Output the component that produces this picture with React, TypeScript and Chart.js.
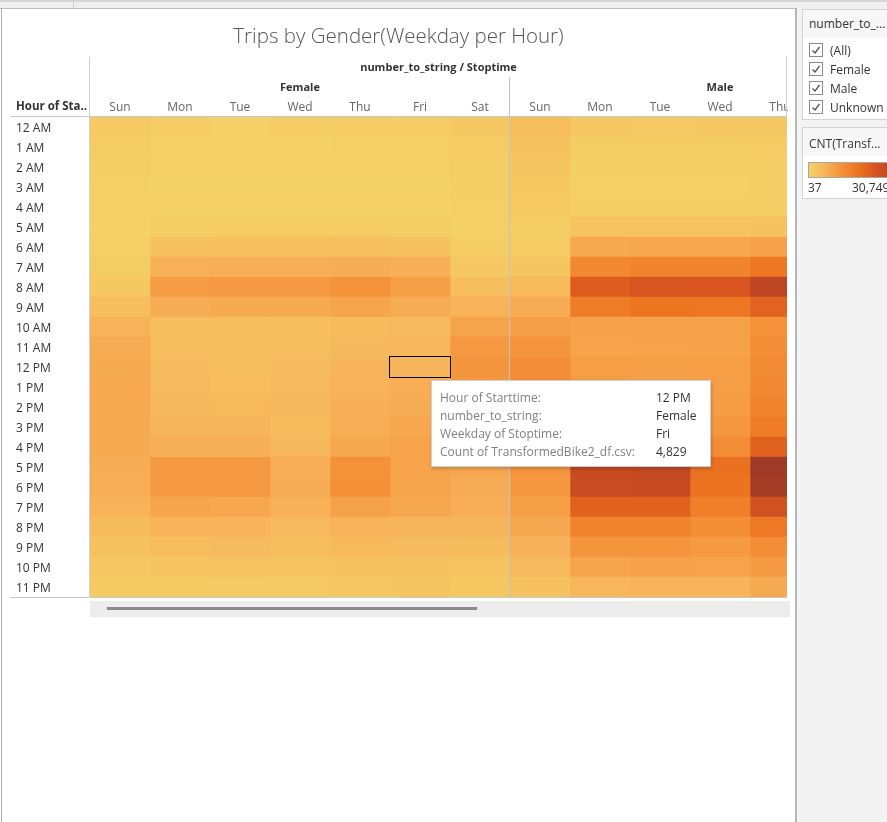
import React, { useEffect, useRef } from "react";
import { Chart, registerables } from "chart.js";

Chart.register(...registerables);

// ---------- data ----------
const hours = [
  "12 AM", "1 AM", "2 AM", "3 AM", "4 AM", "5 AM", "6 AM", "7 AM", "8 AM", "9 AM", "10 AM", "11 AM",
  "12 PM", "1 PM", "2 PM", "3 PM", "4 PM", "5 PM", "6 PM", "7 PM", "8 PM", "9 PM", "10 PM", "11 PM",
];
const weekdays = ["Sun", "Mon", "Tue", "Wed", "Thu", "Fri", "Sat"];
const genders = ["Female", "Male"];

const femaleSun = [1300, 900, 600, 400, 300, 250, 400, 800, 1500, 3200, 5100, 6200, 6400, 6600, 6500, 6400, 6300, 6000, 5900, 5300, 3800, 2700, 1800, 1200];
const femaleMon = [500, 250, 150, 100, 150, 600, 2700, 5400, 8600, 6000, 3300, 3400, 3700, 4000, 4200, 4800, 5600, 8900, 9000, 7200, 5000, 3600, 2300, 1300];
const femaleTue = [450, 250, 150, 100, 150, 600, 2900, 5700, 9000, 6400, 3200, 3300, 3400, 3500, 3900, 4800, 5600, 8900, 9000, 7000, 5000, 3700, 2400, 1400];
const femaleWed = [500, 250, 150, 100, 150, 600, 2900, 5700, 9000, 6400, 3300, 3400, 3700, 4000, 4200, 3800, 4300, 5900, 6000, 5400, 4100, 3300, 2300, 1400];
const femaleThu = [550, 300, 150, 100, 150, 650, 3100, 6100, 10000, 7300, 3800, 4200, 4800, 5300, 5500, 5800, 6800, 10200, 10500, 7800, 5300, 3900, 2800, 1800];
const femaleFri = [650, 300, 200, 100, 150, 600, 2800, 5500, 8200, 6200, 4100, 4500, 4829, 5800, 6200, 6900, 7600, 7600, 7300, 6800, 4800, 3700, 2800, 2100];
const femaleSat = [1500, 1000, 700, 500, 350, 350, 600, 1500, 3200, 5200, 7400, 9000, 9600, 9300, 8900, 8500, 7900, 7000, 6200, 5900, 4800, 3800, 2300, 1600];
const maleSun = [3400, 2600, 2100, 1600, 1200, 800, 1000, 2000, 3900, 6200, 8000, 9800, 10800, 11200, 11000, 10600, 10300, 9800, 9300, 8200, 6800, 5400, 4100, 2700];
const maleMon = [1500, 900, 550, 450, 650, 2200, 6600, 11700, 19400, 13800, 7700, 7600, 8400, 8500, 9000, 10000, 12500, 24000, 23500, 18500, 12800, 9800, 7300, 4600];
const maleTue = [1400, 800, 500, 400, 650, 2300, 7000, 12500, 21000, 15300, 7800, 7500, 8100, 8000, 8600, 9600, 12200, 24500, 24000, 18500, 12600, 9800, 7700, 5000];
const maleWed = [1500, 900, 550, 450, 650, 2300, 6900, 12500, 20800, 15100, 7800, 7700, 8300, 8300, 8700, 9400, 11200, 16000, 15500, 13500, 10900, 8900, 7500, 4900];
const maleThu = [1800, 1000, 650, 500, 700, 2500, 7700, 14800, 25500, 18300, 10300, 10900, 11500, 11800, 12500, 14000, 18500, 30749, 29500, 22000, 14500, 10900, 8800, 6300];

const femaleColumns = [femaleSun, femaleMon, femaleTue, femaleWed, femaleThu, femaleFri, femaleSat];
const maleColumns = [maleSun, maleMon, maleTue, maleWed, maleThu];

const minCount = 37;
const maxCount = 30749;

// ---------- style ----------
const colorStops: [number, string][] = [
  [0, "#f4d166"],
  [0.17, "#f7b25a"],
  [0.33, "#f4923a"],
  [0.5, "#ec7420"],
  [0.67, "#d9561f"],
  [0.83, "#bd4524"],
  [1, "#9e3a26"],
];

function hexToRgb(h: string) {
  const n = parseInt(h.slice(1), 16);
  return [(n >> 16) & 255, (n >> 8) & 255, n & 255];
}

function colorFor(v: number) {
  let t = (v - minCount) / (maxCount - minCount);
  t = Math.max(0, Math.min(1, t));
  for (let i = 1; i < colorStops.length; i++) {
    const [t1, c1] = colorStops[i];
    const [t0, c0] = colorStops[i - 1];
    if (t <= t1) {
      const f = (t - t0) / (t1 - t0);
      const a = hexToRgb(c0);
      const b = hexToRgb(c1);
      const r = a.map((x, k) => Math.round(x + (b[k] - x) * f));
      return `rgb(${r[0]},${r[1]},${r[2]})`;
    }
  }
  return colorStops[colorStops.length - 1][1];
}

const columns = [
  ...femaleColumns.map((values, i) => ({ gender: genders[0], day: weekdays[i], values })),
  ...maleColumns.map((values, i) => ({ gender: genders[1], day: weekdays[i], values })),
];

const FONT = '"Open Sans", "DejaVu Sans", sans-serif';
const COL_W = 60;
const PLOT_LEFT = 90;
const PLOT_RIGHT = 787;
const CANVAS_W = 810;
const visibleColumns = (PLOT_RIGHT - PLOT_LEFT) / COL_W;

const headerPlugin = {
  id: "tableauHeaders",
  afterDatasetsDraw(chart: any) {
    const { ctx, chartArea, scales } = chart;
    const x = scales.x;
    const y = scales.y;
    ctx.save();
    ctx.lineWidth = 1;
    const line = (x1: number, y1: number, x2: number, y2: number) => {
      ctx.beginPath();
      ctx.moveTo(x1, y1);
      ctx.lineTo(x2, y2);
      ctx.stroke();
    };
    ctx.strokeStyle = "#d0d0d0";
    line(chartArea.left - 0.5, 57, chartArea.left - 0.5, chartArea.bottom);
    line(chartArea.right - 0.5, 57, chartArea.right - 0.5, chartArea.top);
    ctx.strokeStyle = "#c8c8c8";
    line(10, chartArea.top - 0.5, chartArea.right, chartArea.top - 0.5);
    line(10, chartArea.bottom + 0.5, chartArea.right, chartArea.bottom + 0.5);
    ctx.strokeStyle = "#bfc3c8";
    const sep = Math.round(x.getPixelForValue(7)) - 0.5;
    line(sep, 77, sep, chartArea.bottom);

    // selected cell outline (Female Fri 12 PM)
    const selCol = 5;
    const selRow = hours.indexOf("12 PM");
    const x0 = x.getPixelForValue(selCol);
    const x1 = x.getPixelForValue(selCol + 1);
    const yc = y.getPixelForValue(selRow);
    ctx.strokeStyle = "#000";
    ctx.strokeRect(Math.round(x0) - 0.5, Math.round(yc - 10) - 0.5, x1 - x0 + 1, 21);

    // headers
    ctx.fillStyle = "#333";
    ctx.textBaseline = "middle";
    ctx.textAlign = "center";
    ctx.font = `bold 11px ${FONT}`;
    ctx.fillText("number_to_string / Stoptime", (chartArea.left + chartArea.right) / 2, 68);
    ctx.fillText(genders[0], x.getPixelForValue(3.5), 88);
    ctx.fillText(genders[1], x.getPixelForValue(10.5), 88);
    ctx.textAlign = "left";
    ctx.font = `bold 11.5px ${FONT}`;
    ctx.fillText("Hour of Sta..", 16, 107);
    ctx.restore();
  },
};

function HeatChart() {
  const ref = useRef<HTMLCanvasElement | null>(null);
  useEffect(() => {
    if (!ref.current) return;
    const chart = new Chart(ref.current, {
      type: "bar",
      data: {
        labels: hours,
        datasets: columns.map((c) => ({
          label: `${c.gender} ${c.day}`,
          data: hours.map(() => 1),
          backgroundColor: c.values.map(colorFor),
          borderWidth: 0,
          barPercentage: 1,
          categoryPercentage: 1,
          stack: "cells",
        })),
      },
      options: {
        indexAxis: "y",
        animation: false,
        responsive: true,
        maintainAspectRatio: false,
        events: [],
        layout: { padding: { left: 16, top: 57, right: CANVAS_W - PLOT_RIGHT, bottom: 225 } },
        plugins: { legend: { display: false }, tooltip: { enabled: false }, title: { display: false } },
        scales: {
          x: {
            type: "linear",
            position: "top",
            stacked: true,
            min: 0,
            max: visibleColumns,
            grid: { display: false, drawTicks: false },
            border: { display: false },
            afterBuildTicks: (scale: any) => {
              scale.ticks = columns.map((_, i) => ({ value: i + 0.5 }));
            },
            afterFit: (scale: any) => {
              scale.height = 60;
            },
            ticks: {
              autoSkip: false,
              maxRotation: 0,
              padding: 2,
              color: "#666",
              font: { family: FONT, size: 12 },
              callback: (_v: any, i: number) => columns[i]?.day ?? "",
            },
          },
          y: {
            type: "category",
            stacked: true,
            grid: { display: false, drawTicks: false },
            border: { display: false },
            afterFit: (scale: any) => {
              scale.width = 74;
            },
            ticks: {
              crossAlign: "far",
              autoSkip: false,
              labelOffset: 1.5,
              color: "#333",
              font: { family: FONT, size: 12 },
            },
          },
        },
      },
      plugins: [headerPlugin],
    } as any);
    return () => chart.destroy();
  }, []);
  return (
    <div style={{ position: "absolute", left: 0, top: 0, width: PLOT_RIGHT + 1, height: 822, overflow: "hidden" }}>
      <div style={{ position: "absolute", left: 0, top: 0, width: CANVAS_W, height: 822 }}>
        <canvas ref={ref} />
      </div>
    </div>
  );
}

function CheckItem({ label, top }: { label: string; top: number }) {
  return (
    <div style={{ position: "absolute", left: 6, top, height: 16, display: "flex", alignItems: "center" }}>
      <div
        style={{
          width: 12,
          height: 12,
          border: "1px solid #8c8c8c",
          background: "#fff",
          display: "flex",
          alignItems: "center",
          justifyContent: "center",
        }}
      >
        <svg width="10" height="10" viewBox="0 0 10 10">
          <path d="M1.5 5.5 L4 8 L8.5 2" stroke="#555" strokeWidth="1.3" fill="none" />
        </svg>
      </div>
      <span style={{ marginLeft: 7, fontSize: 12, color: "#333", fontFamily: FONT, whiteSpace: "nowrap" }}>{label}</span>
    </div>
  );
}

const legendGradient = `linear-gradient(to right, ${colorStops
  .map(([t, c]) => `${c} ${Math.round(t * 100)}%`)
  .join(", ")})`;

export default function App() {
  const tooltipRows: [string, string][] = [
    ["Hour of Starttime:", "12 PM"],
    ["number_to_string:", "Female"],
    ["Weekday of Stoptime:", "Fri"],
    ["Count of TransformedBike2_df.csv:", "4,829"],
  ];
  return (
    <div
      style={{
        position: "fixed",
        left: 0,
        top: 0,
        width: 887,
        height: 822,
        overflow: "hidden",
        background: "#fff",
        fontFamily: FONT,
      }}
    >
      {/* top strip */}
      <div style={{ position: "absolute", left: 0, top: 0, width: 887, height: 8, background: "#f0f0f0", borderTop: "2px solid #d6d6d6", boxSizing: "border-box" }} />
      <div style={{ position: "absolute", left: 73, top: 0, width: 1, height: 8, background: "#d0d0d0" }} />
      {/* right area background */}
      <div style={{ position: "absolute", left: 796, top: 8, width: 91, height: 814, background: "#f3f3f3" }} />

      <HeatChart />

      {/* main panel borders */}
      <div style={{ position: "absolute", left: 0, top: 8, width: 797, height: 1, background: "#bdbdbd" }} />
      <div style={{ position: "absolute", left: 1, top: 8, width: 1, height: 814, background: "#b0b0b0" }} />
      <div style={{ position: "absolute", left: 795, top: 8, width: 2, height: 814, background: "#b5b5b5" }} />

      {/* title */}
      <div
        style={{
          position: "absolute",
          left: 2,
          top: 21,
          width: 793,
          textAlign: "center",
          fontSize: 20.5,
          fontWeight: 300,
          color: "#555",
          lineHeight: "28px",
        }}
      >
        Trips by Gender(Weekday per Hour)
      </div>

      {/* scrollbar */}
      <div style={{ position: "absolute", left: 90, top: 601, width: 700, height: 16, background: "#ededed" }} />
      <div style={{ position: "absolute", left: 107, top: 607, width: 370, height: 3, background: "#8a8a8a" }} />

      {/* tooltip */}
      <div
        style={{
          position: "absolute",
          left: 431,
          top: 380,
          width: 280,
          height: 87,
          background: "#fff",
          border: "1px solid #d0d0d0",
          boxShadow: "1px 2px 3px rgba(0,0,0,0.18)",
          boxSizing: "border-box",
        }}
      >
        {tooltipRows.map(([k], i) => (
          <div key={k} style={{ position: "absolute", top: 8 + i * 18, left: 8, fontSize: 12, lineHeight: "18px", whiteSpace: "nowrap", color: "#808080" }}>
            {k}
          </div>
        ))}
        {tooltipRows.map(([k, v], i) => (
          <div key={k + "v"} style={{ position: "absolute", top: 8 + i * 18, left: 224, fontSize: 12, lineHeight: "18px", color: "#333", whiteSpace: "nowrap" }}>
            {v}
          </div>
        ))}
      </div>

      {/* filter card */}
      <div
        style={{
          position: "absolute",
          left: 802,
          top: 9,
          width: 110,
          height: 111,
          background: "#fff",
          border: "1px solid #d3d3d3",
          boxSizing: "border-box",
        }}
      >
        <div style={{ position: "absolute", left: 0, top: 0, width: "100%", height: 28, background: "#f7f7f7" }} />
        <div style={{ position: "absolute", left: 6, top: 5, fontSize: 12, color: "#333", whiteSpace: "nowrap" }}>number_to_...</div>
        <CheckItem label="(All)" top={32} />
        <CheckItem label="Female" top={51} />
        <CheckItem label="Male" top={70} />
        <CheckItem label="Unknown" top={89} />
      </div>

      {/* color legend card */}
      <div
        style={{
          position: "absolute",
          left: 802,
          top: 127,
          width: 110,
          height: 72,
          background: "#fff",
          border: "1px solid #d3d3d3",
          boxSizing: "border-box",
        }}
      >
        <div style={{ position: "absolute", left: 0, top: 0, width: "100%", height: 28, background: "#f7f7f7" }} />
        <div style={{ position: "absolute", left: 6, top: 7, fontSize: 12, color: "#333", whiteSpace: "nowrap" }}>CNT(Transf...</div>
        <div
          style={{
            position: "absolute",
            left: 5,
            top: 34,
            width: 100,
            height: 16,
            background: legendGradient,
            border: "1px solid #a8a8a8",
            boxSizing: "border-box",
          }}
        />
        <div style={{ position: "absolute", left: 5, top: 51, fontSize: 12, color: "#333" }}>{minCount}</div>
        <div style={{ position: "absolute", left: 49, top: 51, fontSize: 12, color: "#333" }}>
          {maxCount.toLocaleString("en-US")}
        </div>
      </div>
    </div>
  );
}
